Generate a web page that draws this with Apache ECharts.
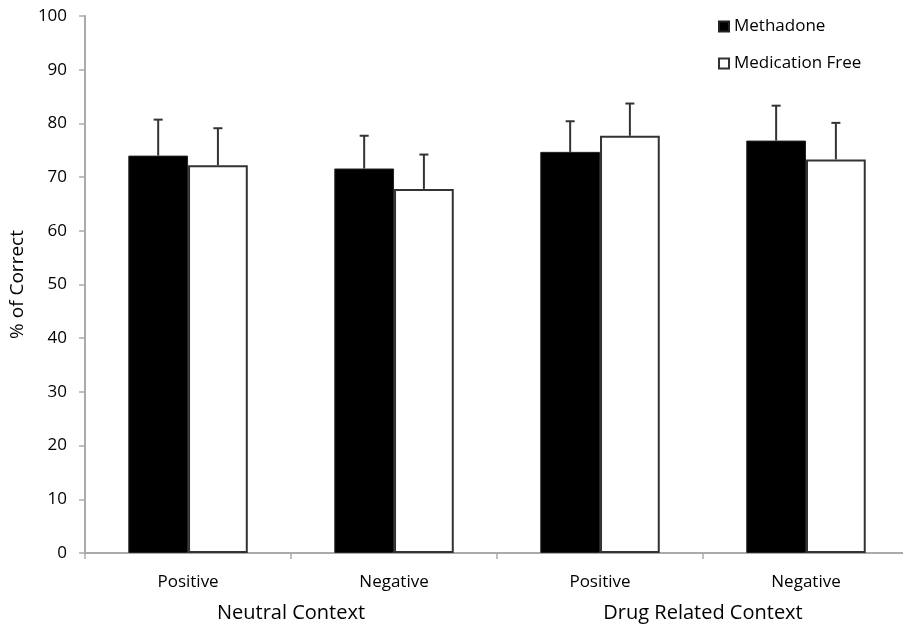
<!DOCTYPE html>
<html>
<head>
<meta charset="utf-8">
<script src="https://cdn.jsdelivr.net/npm/echarts@6/dist/echarts.min.js"></script>
<style>
  html, body { margin: 0; padding: 0; background: #fff; overflow: hidden; }
  /* plot runs past the right window edge like the original crop */
  #chart { width: 909px; height: 630px; }
</style>
</head>
<body>
<div id="chart"></div>
<script>
  // conditions along x, grouped by context
  const categories = ['Positive', 'Negative', 'Positive', 'Negative']
  const groups = ['Neutral Context', 'Drug Related Context']
  const seriesNames = ['Methadone', 'Medication Free']

  // mean % correct
  const methadone = [74.0, 71.6, 74.7, 76.8]
  const medFree = [72.2, 67.8, 77.7, 73.3]
  // upper error bar ends
  const methadoneErr = [80.7, 77.7, 80.4, 83.3]
  const medFreeErr = [79.1, 74.2, 83.7, 80.1]

  const yTicks = [0, 10, 20, 30, 40, 50, 60, 70, 80, 90, 100]

  const font = '"Open Sans", Lato, sans-serif'
  const barRatio = 0.29

  const chart = echarts.init(document.getElementById('chart'))

  // draw upward error bar with a cap; side -1 = left bar, +1 = right bar
  const errorRender = (side) => (params, api) => {
    const idx = api.value(0)
    const low = api.coord([idx, api.value(1)])
    const high = api.coord([idx, api.value(2)])
    const band = api.size([1, 0])[0]
    const x = low[0] + side * band * barRatio / 2
    const cap = 4.5
    const style = { stroke: '#333', lineWidth: 2 }
    return {
      type: 'group',
      children: [
        { type: 'line', shape: { x1: x, y1: low[1], x2: x, y2: high[1] }, style },
        { type: 'line', shape: { x1: x - cap, y1: high[1], x2: x + cap, y2: high[1] }, style }
      ]
    }
  }

  chart.setOption({
    backgroundColor: '#fff',
    animation: false,
    textStyle: { fontFamily: font },
    legend: {
      orient: 'vertical',
      left: 713,
      top: 13,
      itemWidth: 10,
      itemHeight: 10,
      itemGap: 20,
      icon: 'rect',
      textStyle: { fontSize: 17, color: '#000', fontFamily: font },
      data: seriesNames
    },
    grid: { left: 85, top: 16, right: 0, height: 537 },
    xAxis: [
      {
        type: 'category',
        data: categories,
        axisLine: { lineStyle: { color: '#aaa', width: 2 } },
        axisTick: { show: true, length: 6, lineStyle: { color: '#aaa', width: 1.5 } },
        axisLabel: { fontSize: 17, color: '#000', margin: 21, fontFamily: font }
      },
      {
        type: 'category',
        data: groups,
        position: 'bottom',
        offset: 50,
        axisLine: { show: false },
        axisTick: { show: false },
        axisLabel: { fontSize: 20, color: '#000', margin: 0, fontFamily: font }
      }
    ],
    yAxis: {
      type: 'value',
      min: yTicks[0],
      max: yTicks[yTicks.length - 1],
      interval: 10,
      name: '% of Correct',
      nameLocation: 'middle',
      nameRotate: 90,
      nameGap: 52,
      nameTextStyle: { fontSize: 19, color: '#000', fontFamily: font },
      splitLine: { show: false },
      axisLine: { show: true, lineStyle: { color: '#aaa', width: 2 } },
      axisTick: { show: true, length: 6, lineStyle: { color: '#aaa', width: 1.5 } },
      axisLabel: { fontSize: 17, color: '#000', margin: 18, fontFamily: font }
    },
    series: [
      {
        name: seriesNames[0],
        type: 'bar',
        data: methadone,
        barWidth: (barRatio * 100) + '%',
        barGap: '0%',
        itemStyle: { color: '#000', borderColor: '#222', borderWidth: 1 }
      },
      {
        name: seriesNames[1],
        type: 'bar',
        data: medFree,
        barWidth: (barRatio * 100) + '%',
        barGap: '0%',
        itemStyle: { color: '#fff', borderColor: '#333', borderWidth: 2 }
      },
      {
        type: 'custom',
        renderItem: errorRender(-1),
        data: methadone.map((v, i) => [i, v, methadoneErr[i]]),
        z: 1
      },
      {
        type: 'custom',
        renderItem: errorRender(1),
        data: medFree.map((v, i) => [i, v, medFreeErr[i]]),
        z: 1
      }
    ]
  })
</script>
</body>
</html>
